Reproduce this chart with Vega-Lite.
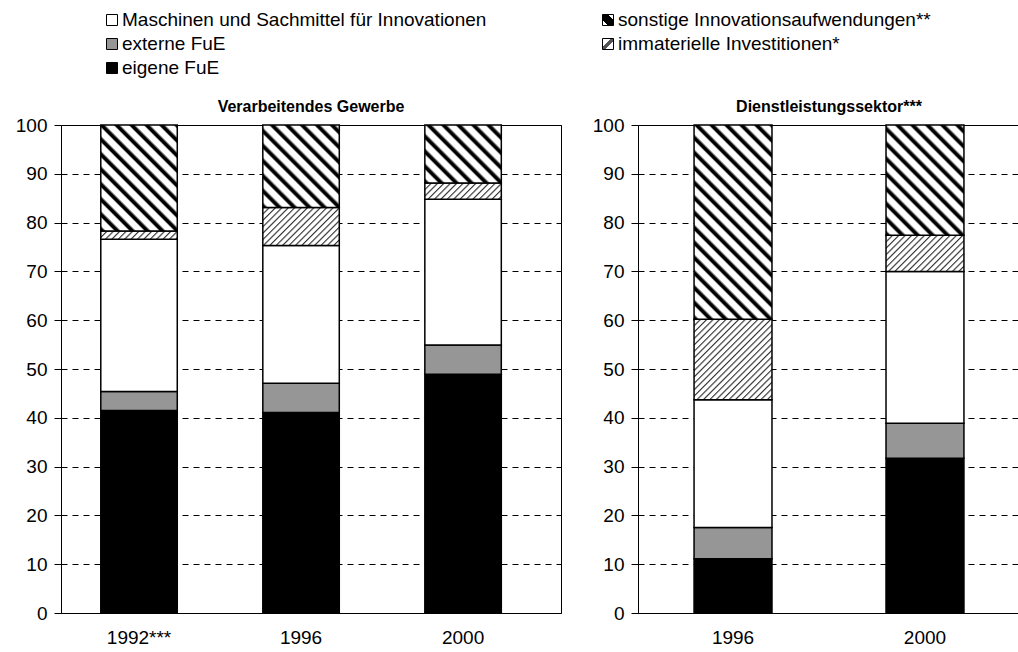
{
  "$schema": "https://vega.github.io/schema/vega-lite/v6.json",
  "background": "white",
  "padding": {"left": 14, "top": 0, "right": 0, "bottom": 0},
  "config": {
    "font": "Liberation Sans",
    "view": {"stroke": "black", "strokeWidth": 1},
    "axis": {"labelFont": "Liberation Sans", "labelFontSize": 19, "labelColor": "black", "domainColor": "black", "domainWidth": 1, "tickColor": "black", "gridColor": "black", "gridDash": [6, 5], "gridWidth": 1, "labelFlush": false, "labelOverlap": false, "labelBound": false},
    "axisX": {"ticks": false, "labelPadding": 15, "labelAngle": 0, "grid": false},
    "axisY": {"tickSize": 7, "labelPadding": 7},
    "title": {"font": "Liberation Sans", "fontSize": 16, "fontWeight": "bold", "color": "black", "offset": 0, "dy": 3, "anchor": "middle"}
  },
  "datasets": {
    "bars": [
      {"sector": "VG", "year": "1992***", "k": 1, "comp": "eigene FuE", "value": 41.5},
      {"sector": "VG", "year": "1992***", "k": 2, "comp": "externe FuE", "value": 3.9},
      {"sector": "VG", "year": "1992***", "k": 3, "comp": "Maschinen und Sachmittel für Innovationen", "value": 31.2},
      {"sector": "VG", "year": "1992***", "k": 4, "comp": "immaterielle Investitionen", "value": 1.7},
      {"sector": "VG", "year": "1992***", "k": 5, "comp": "sonstige Innovationsaufwendungen", "value": 21.7},
      {"sector": "VG", "year": "1996", "k": 1, "comp": "eigene FuE", "value": 41.1},
      {"sector": "VG", "year": "1996", "k": 2, "comp": "externe FuE", "value": 6.0},
      {"sector": "VG", "year": "1996", "k": 3, "comp": "Maschinen und Sachmittel für Innovationen", "value": 28.2},
      {"sector": "VG", "year": "1996", "k": 4, "comp": "immaterielle Investitionen", "value": 7.8},
      {"sector": "VG", "year": "1996", "k": 5, "comp": "sonstige Innovationsaufwendungen", "value": 16.9},
      {"sector": "VG", "year": "2000", "k": 1, "comp": "eigene FuE", "value": 48.9},
      {"sector": "VG", "year": "2000", "k": 2, "comp": "externe FuE", "value": 6.0},
      {"sector": "VG", "year": "2000", "k": 3, "comp": "Maschinen und Sachmittel für Innovationen", "value": 29.9},
      {"sector": "VG", "year": "2000", "k": 4, "comp": "immaterielle Investitionen", "value": 3.3},
      {"sector": "VG", "year": "2000", "k": 5, "comp": "sonstige Innovationsaufwendungen", "value": 11.9},
      {"sector": "DL", "year": "1996", "k": 1, "comp": "eigene FuE", "value": 11.1},
      {"sector": "DL", "year": "1996", "k": 2, "comp": "externe FuE", "value": 6.4},
      {"sector": "DL", "year": "1996", "k": 3, "comp": "Maschinen und Sachmittel für Innovationen", "value": 26.2},
      {"sector": "DL", "year": "1996", "k": 4, "comp": "immaterielle Investitionen", "value": 16.5},
      {"sector": "DL", "year": "1996", "k": 5, "comp": "sonstige Innovationsaufwendungen", "value": 39.8},
      {"sector": "DL", "year": "2000", "k": 1, "comp": "eigene FuE", "value": 31.7},
      {"sector": "DL", "year": "2000", "k": 2, "comp": "externe FuE", "value": 7.2},
      {"sector": "DL", "year": "2000", "k": 3, "comp": "Maschinen und Sachmittel für Innovationen", "value": 31.1},
      {"sector": "DL", "year": "2000", "k": 4, "comp": "immaterielle Investitionen", "value": 7.4},
      {"sector": "DL", "year": "2000", "k": 5, "comp": "sonstige Innovationsaufwendungen", "value": 22.6}
    ],
    "legend": [
      {"label": "Maschinen und Sachmittel für Innovationen", "col": 0, "row": 0, "k": 3},
      {"label": "externe FuE", "col": 0, "row": 1, "k": 2},
      {"label": "eigene FuE", "col": 0, "row": 2, "k": 1},
      {"label": "sonstige Innovationsaufwendungen**", "col": 1, "row": 0, "k": 5},
      {"label": "immaterielle Investitionen*", "col": 1, "row": 1, "k": 4}
    ]
  },
  "spacing": 18,
  "vconcat": [
    {
      "width": 940,
      "height": 80,
      "view": {"stroke": null},
      "data": {"name": "legend"},
      "encoding": {
        "x": {"field": "col", "type": "quantitative", "scale": {"domain": [0, 1], "range": [51, 547]}, "axis": null},
        "y": {"field": "row", "type": "quantitative", "scale": {"domain": [0, 2], "range": [20, 68]}, "axis": null}
      },
      "layer": [
        {
          "mark": {"type": "square", "size": 121, "stroke": "black", "strokeWidth": 1, "opacity": 1},
          "encoding": {
            "fill": {
              "condition": [
                {"test": "datum.k === 1", "value": "#000"},
                {"test": "datum.k === 2", "value": "#969696"},
                {"test": "datum.k === 5", "value": {"gradient": "linear", "x1": 0, "y1": 1, "x2": 1, "y2": 0, "stops": [{"offset": 0, "color": "#fff"}, {"offset": 0.25, "color": "#fff"}, {"offset": 0.25, "color": "#000"}, {"offset": 0.75, "color": "#000"}, {"offset": 0.75, "color": "#fff"}, {"offset": 1, "color": "#fff"}]}},
                {"test": "datum.k === 4", "value": {"gradient": "linear", "x1": 0, "y1": 0, "x2": 1, "y2": 1, "stops": [{"offset": 0, "color": "#fff"}, {"offset": 0.4, "color": "#fff"}, {"offset": 0.4, "color": "#555"}, {"offset": 0.6, "color": "#555"}, {"offset": 0.6, "color": "#fff"}, {"offset": 1, "color": "#fff"}]}}
              ],
              "value": "#fff"
            }
          }
        },
        {
          "mark": {"type": "text", "align": "left", "baseline": "middle", "dx": 10, "fontSize": 19, "font": "Liberation Sans", "color": "black"},
          "encoding": {"text": {"field": "label"}}
        }
      ]
    },
    {
      "spacing": 29,
      "hconcat": [
        {
          "width": 500,
          "height": 488,
          "title": "Verarbeitendes Gewerbe",
          "data": {"name": "bars"},
          "transform": [{"filter": "datum.sector === 'VG'"}],
          "mark": {"type": "bar", "stroke": "black", "strokeWidth": 1.5},
          "encoding": {
            "x": {"field": "year", "type": "nominal", "sort": null, "scale": {"paddingInner": 0.528, "paddingOuter": 0.307, "align": 0.4}, "axis": {"title": null}},
            "y": {"field": "value", "type": "quantitative", "stack": "zero", "scale": {"domain": [0, 100], "nice": false}, "axis": {"title": null, "values": [0, 10, 20, 30, 40, 50, 60, 70, 80, 90, 100], "grid": true}},
            "order": {"field": "k", "type": "quantitative"},
            "fill": {
              "condition": [
                {"test": "datum.k === 1", "value": "#000"},
                {"test": "datum.k === 2", "value": "#969696"},
                {"test": "datum.k === 4 && datum.year === '1992***'", "value": {"gradient": "linear", "x1": 0, "y1": 0, "x2": 2.0672, "y2": 0.2243, "stops": [{"offset":0,"color":"#333"},{"offset":0.012,"color":"#fff"},{"offset":0.032,"color":"#fff"},{"offset":0.04,"color":"#333"},{"offset":0.052,"color":"#fff"},{"offset":0.072,"color":"#fff"},{"offset":0.08,"color":"#333"},{"offset":0.092,"color":"#fff"},{"offset":0.112,"color":"#fff"},{"offset":0.12,"color":"#333"},{"offset":0.132,"color":"#fff"},{"offset":0.152,"color":"#fff"},{"offset":0.16,"color":"#333"},{"offset":0.172,"color":"#fff"},{"offset":0.192,"color":"#fff"},{"offset":0.2,"color":"#333"},{"offset":0.212,"color":"#fff"},{"offset":0.232,"color":"#fff"},{"offset":0.24,"color":"#333"},{"offset":0.252,"color":"#fff"},{"offset":0.272,"color":"#fff"},{"offset":0.28,"color":"#333"},{"offset":0.292,"color":"#fff"},{"offset":0.312,"color":"#fff"},{"offset":0.32,"color":"#333"},{"offset":0.332,"color":"#fff"},{"offset":0.352,"color":"#fff"},{"offset":0.36,"color":"#333"},{"offset":0.372,"color":"#fff"},{"offset":0.392,"color":"#fff"},{"offset":0.4,"color":"#333"},{"offset":0.412,"color":"#fff"},{"offset":0.432,"color":"#fff"},{"offset":0.44,"color":"#333"},{"offset":0.452,"color":"#fff"},{"offset":0.472,"color":"#fff"},{"offset":0.48,"color":"#333"},{"offset":0.492,"color":"#fff"},{"offset":0.512,"color":"#fff"},{"offset":0.52,"color":"#333"},{"offset":0.532,"color":"#fff"},{"offset":0.552,"color":"#fff"},{"offset":0.56,"color":"#333"},{"offset":0.572,"color":"#fff"},{"offset":0.592,"color":"#fff"},{"offset":0.6,"color":"#333"},{"offset":0.612,"color":"#fff"},{"offset":0.632,"color":"#fff"},{"offset":0.64,"color":"#333"},{"offset":0.652,"color":"#fff"},{"offset":0.672,"color":"#fff"},{"offset":0.68,"color":"#333"},{"offset":0.692,"color":"#fff"},{"offset":0.712,"color":"#fff"},{"offset":0.72,"color":"#333"},{"offset":0.732,"color":"#fff"},{"offset":0.752,"color":"#fff"},{"offset":0.76,"color":"#333"},{"offset":0.772,"color":"#fff"},{"offset":0.792,"color":"#fff"},{"offset":0.8,"color":"#333"},{"offset":0.812,"color":"#fff"},{"offset":0.832,"color":"#fff"},{"offset":0.84,"color":"#333"},{"offset":0.852,"color":"#fff"},{"offset":0.872,"color":"#fff"},{"offset":0.88,"color":"#333"},{"offset":0.892,"color":"#fff"},{"offset":0.912,"color":"#fff"},{"offset":0.92,"color":"#333"},{"offset":0.932,"color":"#fff"},{"offset":0.952,"color":"#fff"},{"offset":0.96,"color":"#333"},{"offset":0.972,"color":"#fff"},{"offset":0.992,"color":"#fff"},{"offset":1,"color":"#333"}]}},
                {"test": "datum.k === 4 && datum.year === '1996'", "value": {"gradient": "linear", "x1": 0, "y1": 0, "x2": 1.6758, "y2": 0.8346, "stops": [{"offset":0,"color":"#333"},{"offset":0.012,"color":"#fff"},{"offset":0.032,"color":"#fff"},{"offset":0.04,"color":"#333"},{"offset":0.052,"color":"#fff"},{"offset":0.072,"color":"#fff"},{"offset":0.08,"color":"#333"},{"offset":0.092,"color":"#fff"},{"offset":0.112,"color":"#fff"},{"offset":0.12,"color":"#333"},{"offset":0.132,"color":"#fff"},{"offset":0.152,"color":"#fff"},{"offset":0.16,"color":"#333"},{"offset":0.172,"color":"#fff"},{"offset":0.192,"color":"#fff"},{"offset":0.2,"color":"#333"},{"offset":0.212,"color":"#fff"},{"offset":0.232,"color":"#fff"},{"offset":0.24,"color":"#333"},{"offset":0.252,"color":"#fff"},{"offset":0.272,"color":"#fff"},{"offset":0.28,"color":"#333"},{"offset":0.292,"color":"#fff"},{"offset":0.312,"color":"#fff"},{"offset":0.32,"color":"#333"},{"offset":0.332,"color":"#fff"},{"offset":0.352,"color":"#fff"},{"offset":0.36,"color":"#333"},{"offset":0.372,"color":"#fff"},{"offset":0.392,"color":"#fff"},{"offset":0.4,"color":"#333"},{"offset":0.412,"color":"#fff"},{"offset":0.432,"color":"#fff"},{"offset":0.44,"color":"#333"},{"offset":0.452,"color":"#fff"},{"offset":0.472,"color":"#fff"},{"offset":0.48,"color":"#333"},{"offset":0.492,"color":"#fff"},{"offset":0.512,"color":"#fff"},{"offset":0.52,"color":"#333"},{"offset":0.532,"color":"#fff"},{"offset":0.552,"color":"#fff"},{"offset":0.56,"color":"#333"},{"offset":0.572,"color":"#fff"},{"offset":0.592,"color":"#fff"},{"offset":0.6,"color":"#333"},{"offset":0.612,"color":"#fff"},{"offset":0.632,"color":"#fff"},{"offset":0.64,"color":"#333"},{"offset":0.652,"color":"#fff"},{"offset":0.672,"color":"#fff"},{"offset":0.68,"color":"#333"},{"offset":0.692,"color":"#fff"},{"offset":0.712,"color":"#fff"},{"offset":0.72,"color":"#333"},{"offset":0.732,"color":"#fff"},{"offset":0.752,"color":"#fff"},{"offset":0.76,"color":"#333"},{"offset":0.772,"color":"#fff"},{"offset":0.792,"color":"#fff"},{"offset":0.8,"color":"#333"},{"offset":0.812,"color":"#fff"},{"offset":0.832,"color":"#fff"},{"offset":0.84,"color":"#333"},{"offset":0.852,"color":"#fff"},{"offset":0.872,"color":"#fff"},{"offset":0.88,"color":"#333"},{"offset":0.892,"color":"#fff"},{"offset":0.912,"color":"#fff"},{"offset":0.92,"color":"#333"},{"offset":0.932,"color":"#fff"},{"offset":0.952,"color":"#fff"},{"offset":0.96,"color":"#333"},{"offset":0.972,"color":"#fff"},{"offset":0.992,"color":"#fff"},{"offset":1,"color":"#333"}]}},
                {"test": "datum.k === 4 && datum.year === '2000'", "value": {"gradient": "linear", "x1": 0, "y1": 0, "x2": 2.0029, "y2": 0.4215, "stops": [{"offset":0,"color":"#333"},{"offset":0.012,"color":"#fff"},{"offset":0.032,"color":"#fff"},{"offset":0.04,"color":"#333"},{"offset":0.052,"color":"#fff"},{"offset":0.072,"color":"#fff"},{"offset":0.08,"color":"#333"},{"offset":0.092,"color":"#fff"},{"offset":0.112,"color":"#fff"},{"offset":0.12,"color":"#333"},{"offset":0.132,"color":"#fff"},{"offset":0.152,"color":"#fff"},{"offset":0.16,"color":"#333"},{"offset":0.172,"color":"#fff"},{"offset":0.192,"color":"#fff"},{"offset":0.2,"color":"#333"},{"offset":0.212,"color":"#fff"},{"offset":0.232,"color":"#fff"},{"offset":0.24,"color":"#333"},{"offset":0.252,"color":"#fff"},{"offset":0.272,"color":"#fff"},{"offset":0.28,"color":"#333"},{"offset":0.292,"color":"#fff"},{"offset":0.312,"color":"#fff"},{"offset":0.32,"color":"#333"},{"offset":0.332,"color":"#fff"},{"offset":0.352,"color":"#fff"},{"offset":0.36,"color":"#333"},{"offset":0.372,"color":"#fff"},{"offset":0.392,"color":"#fff"},{"offset":0.4,"color":"#333"},{"offset":0.412,"color":"#fff"},{"offset":0.432,"color":"#fff"},{"offset":0.44,"color":"#333"},{"offset":0.452,"color":"#fff"},{"offset":0.472,"color":"#fff"},{"offset":0.48,"color":"#333"},{"offset":0.492,"color":"#fff"},{"offset":0.512,"color":"#fff"},{"offset":0.52,"color":"#333"},{"offset":0.532,"color":"#fff"},{"offset":0.552,"color":"#fff"},{"offset":0.56,"color":"#333"},{"offset":0.572,"color":"#fff"},{"offset":0.592,"color":"#fff"},{"offset":0.6,"color":"#333"},{"offset":0.612,"color":"#fff"},{"offset":0.632,"color":"#fff"},{"offset":0.64,"color":"#333"},{"offset":0.652,"color":"#fff"},{"offset":0.672,"color":"#fff"},{"offset":0.68,"color":"#333"},{"offset":0.692,"color":"#fff"},{"offset":0.712,"color":"#fff"},{"offset":0.72,"color":"#333"},{"offset":0.732,"color":"#fff"},{"offset":0.752,"color":"#fff"},{"offset":0.76,"color":"#333"},{"offset":0.772,"color":"#fff"},{"offset":0.792,"color":"#fff"},{"offset":0.8,"color":"#333"},{"offset":0.812,"color":"#fff"},{"offset":0.832,"color":"#fff"},{"offset":0.84,"color":"#333"},{"offset":0.852,"color":"#fff"},{"offset":0.872,"color":"#fff"},{"offset":0.88,"color":"#333"},{"offset":0.892,"color":"#fff"},{"offset":0.912,"color":"#fff"},{"offset":0.92,"color":"#333"},{"offset":0.932,"color":"#fff"},{"offset":0.952,"color":"#fff"},{"offset":0.96,"color":"#333"},{"offset":0.972,"color":"#fff"},{"offset":0.992,"color":"#fff"},{"offset":1,"color":"#333"}]}},
                {"test": "datum.k === 5 && datum.year === '1992***'", "value": {"gradient": "linear", "x1": 0, "y1": 1, "x2": 1.3447, "y2": -0.8615, "stops": [{"offset":0,"color":"#000"},{"offset":0.01,"color":"#000"},{"offset":0.02,"color":"#fff"},{"offset":0.043,"color":"#fff"},{"offset":0.05,"color":"#000"},{"offset":0.06,"color":"#000"},{"offset":0.07,"color":"#fff"},{"offset":0.093,"color":"#fff"},{"offset":0.1,"color":"#000"},{"offset":0.11,"color":"#000"},{"offset":0.12,"color":"#fff"},{"offset":0.143,"color":"#fff"},{"offset":0.15,"color":"#000"},{"offset":0.16,"color":"#000"},{"offset":0.17,"color":"#fff"},{"offset":0.193,"color":"#fff"},{"offset":0.2,"color":"#000"},{"offset":0.21,"color":"#000"},{"offset":0.22,"color":"#fff"},{"offset":0.243,"color":"#fff"},{"offset":0.25,"color":"#000"},{"offset":0.26,"color":"#000"},{"offset":0.27,"color":"#fff"},{"offset":0.293,"color":"#fff"},{"offset":0.3,"color":"#000"},{"offset":0.31,"color":"#000"},{"offset":0.32,"color":"#fff"},{"offset":0.343,"color":"#fff"},{"offset":0.35,"color":"#000"},{"offset":0.36,"color":"#000"},{"offset":0.37,"color":"#fff"},{"offset":0.393,"color":"#fff"},{"offset":0.4,"color":"#000"},{"offset":0.41,"color":"#000"},{"offset":0.42,"color":"#fff"},{"offset":0.443,"color":"#fff"},{"offset":0.45,"color":"#000"},{"offset":0.46,"color":"#000"},{"offset":0.47,"color":"#fff"},{"offset":0.493,"color":"#fff"},{"offset":0.5,"color":"#000"},{"offset":0.51,"color":"#000"},{"offset":0.52,"color":"#fff"},{"offset":0.543,"color":"#fff"},{"offset":0.55,"color":"#000"},{"offset":0.56,"color":"#000"},{"offset":0.57,"color":"#fff"},{"offset":0.593,"color":"#fff"},{"offset":0.6,"color":"#000"},{"offset":0.61,"color":"#000"},{"offset":0.62,"color":"#fff"},{"offset":0.643,"color":"#fff"},{"offset":0.65,"color":"#000"},{"offset":0.66,"color":"#000"},{"offset":0.67,"color":"#fff"},{"offset":0.693,"color":"#fff"},{"offset":0.7,"color":"#000"},{"offset":0.71,"color":"#000"},{"offset":0.72,"color":"#fff"},{"offset":0.743,"color":"#fff"},{"offset":0.75,"color":"#000"},{"offset":0.76,"color":"#000"},{"offset":0.77,"color":"#fff"},{"offset":0.793,"color":"#fff"},{"offset":0.8,"color":"#000"},{"offset":0.81,"color":"#000"},{"offset":0.82,"color":"#fff"},{"offset":0.843,"color":"#fff"},{"offset":0.85,"color":"#000"},{"offset":0.86,"color":"#000"},{"offset":0.87,"color":"#fff"},{"offset":0.893,"color":"#fff"},{"offset":0.9,"color":"#000"},{"offset":0.91,"color":"#000"},{"offset":0.92,"color":"#fff"},{"offset":0.943,"color":"#fff"},{"offset":0.95,"color":"#000"},{"offset":0.96,"color":"#000"},{"offset":0.97,"color":"#fff"},{"offset":0.993,"color":"#fff"},{"offset":1,"color":"#000"}]}},
                {"test": "datum.k === 5 && datum.year === '1996'", "value": {"gradient": "linear", "x1": 0, "y1": 1, "x2": 1.8131, "y2": -0.9553, "stops": [{"offset":0,"color":"#000"},{"offset":0.01,"color":"#000"},{"offset":0.02,"color":"#fff"},{"offset":0.043,"color":"#fff"},{"offset":0.05,"color":"#000"},{"offset":0.06,"color":"#000"},{"offset":0.07,"color":"#fff"},{"offset":0.093,"color":"#fff"},{"offset":0.1,"color":"#000"},{"offset":0.11,"color":"#000"},{"offset":0.12,"color":"#fff"},{"offset":0.143,"color":"#fff"},{"offset":0.15,"color":"#000"},{"offset":0.16,"color":"#000"},{"offset":0.17,"color":"#fff"},{"offset":0.193,"color":"#fff"},{"offset":0.2,"color":"#000"},{"offset":0.21,"color":"#000"},{"offset":0.22,"color":"#fff"},{"offset":0.243,"color":"#fff"},{"offset":0.25,"color":"#000"},{"offset":0.26,"color":"#000"},{"offset":0.27,"color":"#fff"},{"offset":0.293,"color":"#fff"},{"offset":0.3,"color":"#000"},{"offset":0.31,"color":"#000"},{"offset":0.32,"color":"#fff"},{"offset":0.343,"color":"#fff"},{"offset":0.35,"color":"#000"},{"offset":0.36,"color":"#000"},{"offset":0.37,"color":"#fff"},{"offset":0.393,"color":"#fff"},{"offset":0.4,"color":"#000"},{"offset":0.41,"color":"#000"},{"offset":0.42,"color":"#fff"},{"offset":0.443,"color":"#fff"},{"offset":0.45,"color":"#000"},{"offset":0.46,"color":"#000"},{"offset":0.47,"color":"#fff"},{"offset":0.493,"color":"#fff"},{"offset":0.5,"color":"#000"},{"offset":0.51,"color":"#000"},{"offset":0.52,"color":"#fff"},{"offset":0.543,"color":"#fff"},{"offset":0.55,"color":"#000"},{"offset":0.56,"color":"#000"},{"offset":0.57,"color":"#fff"},{"offset":0.593,"color":"#fff"},{"offset":0.6,"color":"#000"},{"offset":0.61,"color":"#000"},{"offset":0.62,"color":"#fff"},{"offset":0.643,"color":"#fff"},{"offset":0.65,"color":"#000"},{"offset":0.66,"color":"#000"},{"offset":0.67,"color":"#fff"},{"offset":0.693,"color":"#fff"},{"offset":0.7,"color":"#000"},{"offset":0.71,"color":"#000"},{"offset":0.72,"color":"#fff"},{"offset":0.743,"color":"#fff"},{"offset":0.75,"color":"#000"},{"offset":0.76,"color":"#000"},{"offset":0.77,"color":"#fff"},{"offset":0.793,"color":"#fff"},{"offset":0.8,"color":"#000"},{"offset":0.81,"color":"#000"},{"offset":0.82,"color":"#fff"},{"offset":0.843,"color":"#fff"},{"offset":0.85,"color":"#000"},{"offset":0.86,"color":"#000"},{"offset":0.87,"color":"#fff"},{"offset":0.893,"color":"#fff"},{"offset":0.9,"color":"#000"},{"offset":0.91,"color":"#000"},{"offset":0.92,"color":"#fff"},{"offset":0.943,"color":"#fff"},{"offset":0.95,"color":"#000"},{"offset":0.96,"color":"#000"},{"offset":0.97,"color":"#fff"},{"offset":0.993,"color":"#fff"},{"offset":1,"color":"#000"}]}},
                {"test": "datum.k === 5 && datum.year === '2000'", "value": {"gradient": "linear", "x1": 0, "y1": 1, "x2": 2.487, "y2": -0.8888, "stops": [{"offset":0,"color":"#000"},{"offset":0.01,"color":"#000"},{"offset":0.02,"color":"#fff"},{"offset":0.043,"color":"#fff"},{"offset":0.05,"color":"#000"},{"offset":0.06,"color":"#000"},{"offset":0.07,"color":"#fff"},{"offset":0.093,"color":"#fff"},{"offset":0.1,"color":"#000"},{"offset":0.11,"color":"#000"},{"offset":0.12,"color":"#fff"},{"offset":0.143,"color":"#fff"},{"offset":0.15,"color":"#000"},{"offset":0.16,"color":"#000"},{"offset":0.17,"color":"#fff"},{"offset":0.193,"color":"#fff"},{"offset":0.2,"color":"#000"},{"offset":0.21,"color":"#000"},{"offset":0.22,"color":"#fff"},{"offset":0.243,"color":"#fff"},{"offset":0.25,"color":"#000"},{"offset":0.26,"color":"#000"},{"offset":0.27,"color":"#fff"},{"offset":0.293,"color":"#fff"},{"offset":0.3,"color":"#000"},{"offset":0.31,"color":"#000"},{"offset":0.32,"color":"#fff"},{"offset":0.343,"color":"#fff"},{"offset":0.35,"color":"#000"},{"offset":0.36,"color":"#000"},{"offset":0.37,"color":"#fff"},{"offset":0.393,"color":"#fff"},{"offset":0.4,"color":"#000"},{"offset":0.41,"color":"#000"},{"offset":0.42,"color":"#fff"},{"offset":0.443,"color":"#fff"},{"offset":0.45,"color":"#000"},{"offset":0.46,"color":"#000"},{"offset":0.47,"color":"#fff"},{"offset":0.493,"color":"#fff"},{"offset":0.5,"color":"#000"},{"offset":0.51,"color":"#000"},{"offset":0.52,"color":"#fff"},{"offset":0.543,"color":"#fff"},{"offset":0.55,"color":"#000"},{"offset":0.56,"color":"#000"},{"offset":0.57,"color":"#fff"},{"offset":0.593,"color":"#fff"},{"offset":0.6,"color":"#000"},{"offset":0.61,"color":"#000"},{"offset":0.62,"color":"#fff"},{"offset":0.643,"color":"#fff"},{"offset":0.65,"color":"#000"},{"offset":0.66,"color":"#000"},{"offset":0.67,"color":"#fff"},{"offset":0.693,"color":"#fff"},{"offset":0.7,"color":"#000"},{"offset":0.71,"color":"#000"},{"offset":0.72,"color":"#fff"},{"offset":0.743,"color":"#fff"},{"offset":0.75,"color":"#000"},{"offset":0.76,"color":"#000"},{"offset":0.77,"color":"#fff"},{"offset":0.793,"color":"#fff"},{"offset":0.8,"color":"#000"},{"offset":0.81,"color":"#000"},{"offset":0.82,"color":"#fff"},{"offset":0.843,"color":"#fff"},{"offset":0.85,"color":"#000"},{"offset":0.86,"color":"#000"},{"offset":0.87,"color":"#fff"},{"offset":0.893,"color":"#fff"},{"offset":0.9,"color":"#000"},{"offset":0.91,"color":"#000"},{"offset":0.92,"color":"#fff"},{"offset":0.943,"color":"#fff"},{"offset":0.95,"color":"#000"},{"offset":0.96,"color":"#000"},{"offset":0.97,"color":"#fff"},{"offset":0.993,"color":"#fff"},{"offset":1,"color":"#000"}]}}
              ],
              "value": "#fff"
            }
          }
        },
        {
          "width": 382,
          "height": 488,
          "title": "Dienstleistungssektor***",
          "data": {"name": "bars"},
          "transform": [{"filter": "datum.sector === 'DL'"}],
          "mark": {"type": "bar", "stroke": "black", "strokeWidth": 1.5},
          "encoding": {
            "x": {"field": "year", "type": "nominal", "sort": null, "scale": {"paddingInner": 0.594, "paddingOuter": 0.292, "align": 0.5}, "axis": {"title": null}},
            "y": {"field": "value", "type": "quantitative", "stack": "zero", "scale": {"domain": [0, 100], "nice": false}, "axis": {"title": null, "values": [0, 10, 20, 30, 40, 50, 60, 70, 80, 90, 100], "grid": true}},
            "order": {"field": "k", "type": "quantitative"},
            "fill": {
              "condition": [
                {"test": "datum.k === 1", "value": "#000"},
                {"test": "datum.k === 2", "value": "#969696"},
                {"test": "datum.k === 4 && datum.year === '1996'", "value": {"gradient": "linear", "x1": 0, "y1": 0, "x2": 0.9933, "y2": 1.0252, "stops": [{"offset":0,"color":"#333"},{"offset":0.012,"color":"#fff"},{"offset":0.032,"color":"#fff"},{"offset":0.04,"color":"#333"},{"offset":0.052,"color":"#fff"},{"offset":0.072,"color":"#fff"},{"offset":0.08,"color":"#333"},{"offset":0.092,"color":"#fff"},{"offset":0.112,"color":"#fff"},{"offset":0.12,"color":"#333"},{"offset":0.132,"color":"#fff"},{"offset":0.152,"color":"#fff"},{"offset":0.16,"color":"#333"},{"offset":0.172,"color":"#fff"},{"offset":0.192,"color":"#fff"},{"offset":0.2,"color":"#333"},{"offset":0.212,"color":"#fff"},{"offset":0.232,"color":"#fff"},{"offset":0.24,"color":"#333"},{"offset":0.252,"color":"#fff"},{"offset":0.272,"color":"#fff"},{"offset":0.28,"color":"#333"},{"offset":0.292,"color":"#fff"},{"offset":0.312,"color":"#fff"},{"offset":0.32,"color":"#333"},{"offset":0.332,"color":"#fff"},{"offset":0.352,"color":"#fff"},{"offset":0.36,"color":"#333"},{"offset":0.372,"color":"#fff"},{"offset":0.392,"color":"#fff"},{"offset":0.4,"color":"#333"},{"offset":0.412,"color":"#fff"},{"offset":0.432,"color":"#fff"},{"offset":0.44,"color":"#333"},{"offset":0.452,"color":"#fff"},{"offset":0.472,"color":"#fff"},{"offset":0.48,"color":"#333"},{"offset":0.492,"color":"#fff"},{"offset":0.512,"color":"#fff"},{"offset":0.52,"color":"#333"},{"offset":0.532,"color":"#fff"},{"offset":0.552,"color":"#fff"},{"offset":0.56,"color":"#333"},{"offset":0.572,"color":"#fff"},{"offset":0.592,"color":"#fff"},{"offset":0.6,"color":"#333"},{"offset":0.612,"color":"#fff"},{"offset":0.632,"color":"#fff"},{"offset":0.64,"color":"#333"},{"offset":0.652,"color":"#fff"},{"offset":0.672,"color":"#fff"},{"offset":0.68,"color":"#333"},{"offset":0.692,"color":"#fff"},{"offset":0.712,"color":"#fff"},{"offset":0.72,"color":"#333"},{"offset":0.732,"color":"#fff"},{"offset":0.752,"color":"#fff"},{"offset":0.76,"color":"#333"},{"offset":0.772,"color":"#fff"},{"offset":0.792,"color":"#fff"},{"offset":0.8,"color":"#333"},{"offset":0.812,"color":"#fff"},{"offset":0.832,"color":"#fff"},{"offset":0.84,"color":"#333"},{"offset":0.852,"color":"#fff"},{"offset":0.872,"color":"#fff"},{"offset":0.88,"color":"#333"},{"offset":0.892,"color":"#fff"},{"offset":0.912,"color":"#fff"},{"offset":0.92,"color":"#333"},{"offset":0.932,"color":"#fff"},{"offset":0.952,"color":"#fff"},{"offset":0.96,"color":"#333"},{"offset":0.972,"color":"#fff"},{"offset":0.992,"color":"#fff"},{"offset":1,"color":"#333"}]}},
                {"test": "datum.k === 4 && datum.year === '2000'", "value": {"gradient": "linear", "x1": 0, "y1": 0, "x2": 1.6894, "y2": 0.7819, "stops": [{"offset":0,"color":"#333"},{"offset":0.012,"color":"#fff"},{"offset":0.032,"color":"#fff"},{"offset":0.04,"color":"#333"},{"offset":0.052,"color":"#fff"},{"offset":0.072,"color":"#fff"},{"offset":0.08,"color":"#333"},{"offset":0.092,"color":"#fff"},{"offset":0.112,"color":"#fff"},{"offset":0.12,"color":"#333"},{"offset":0.132,"color":"#fff"},{"offset":0.152,"color":"#fff"},{"offset":0.16,"color":"#333"},{"offset":0.172,"color":"#fff"},{"offset":0.192,"color":"#fff"},{"offset":0.2,"color":"#333"},{"offset":0.212,"color":"#fff"},{"offset":0.232,"color":"#fff"},{"offset":0.24,"color":"#333"},{"offset":0.252,"color":"#fff"},{"offset":0.272,"color":"#fff"},{"offset":0.28,"color":"#333"},{"offset":0.292,"color":"#fff"},{"offset":0.312,"color":"#fff"},{"offset":0.32,"color":"#333"},{"offset":0.332,"color":"#fff"},{"offset":0.352,"color":"#fff"},{"offset":0.36,"color":"#333"},{"offset":0.372,"color":"#fff"},{"offset":0.392,"color":"#fff"},{"offset":0.4,"color":"#333"},{"offset":0.412,"color":"#fff"},{"offset":0.432,"color":"#fff"},{"offset":0.44,"color":"#333"},{"offset":0.452,"color":"#fff"},{"offset":0.472,"color":"#fff"},{"offset":0.48,"color":"#333"},{"offset":0.492,"color":"#fff"},{"offset":0.512,"color":"#fff"},{"offset":0.52,"color":"#333"},{"offset":0.532,"color":"#fff"},{"offset":0.552,"color":"#fff"},{"offset":0.56,"color":"#333"},{"offset":0.572,"color":"#fff"},{"offset":0.592,"color":"#fff"},{"offset":0.6,"color":"#333"},{"offset":0.612,"color":"#fff"},{"offset":0.632,"color":"#fff"},{"offset":0.64,"color":"#333"},{"offset":0.652,"color":"#fff"},{"offset":0.672,"color":"#fff"},{"offset":0.68,"color":"#333"},{"offset":0.692,"color":"#fff"},{"offset":0.712,"color":"#fff"},{"offset":0.72,"color":"#333"},{"offset":0.732,"color":"#fff"},{"offset":0.752,"color":"#fff"},{"offset":0.76,"color":"#333"},{"offset":0.772,"color":"#fff"},{"offset":0.792,"color":"#fff"},{"offset":0.8,"color":"#333"},{"offset":0.812,"color":"#fff"},{"offset":0.832,"color":"#fff"},{"offset":0.84,"color":"#333"},{"offset":0.852,"color":"#fff"},{"offset":0.872,"color":"#fff"},{"offset":0.88,"color":"#333"},{"offset":0.892,"color":"#fff"},{"offset":0.912,"color":"#fff"},{"offset":0.92,"color":"#333"},{"offset":0.932,"color":"#fff"},{"offset":0.952,"color":"#fff"},{"offset":0.96,"color":"#333"},{"offset":0.972,"color":"#fff"},{"offset":0.992,"color":"#fff"},{"offset":1,"color":"#333"}]}},
                {"test": "datum.k === 5 && datum.year === '1996'", "value": {"gradient": "linear", "x1": 0, "y1": 1, "x2": 0.5343, "y2": -0.3302, "stops": [{"offset":0,"color":"#000"},{"offset":0.01,"color":"#000"},{"offset":0.02,"color":"#fff"},{"offset":0.043,"color":"#fff"},{"offset":0.05,"color":"#000"},{"offset":0.06,"color":"#000"},{"offset":0.07,"color":"#fff"},{"offset":0.093,"color":"#fff"},{"offset":0.1,"color":"#000"},{"offset":0.11,"color":"#000"},{"offset":0.12,"color":"#fff"},{"offset":0.143,"color":"#fff"},{"offset":0.15,"color":"#000"},{"offset":0.16,"color":"#000"},{"offset":0.17,"color":"#fff"},{"offset":0.193,"color":"#fff"},{"offset":0.2,"color":"#000"},{"offset":0.21,"color":"#000"},{"offset":0.22,"color":"#fff"},{"offset":0.243,"color":"#fff"},{"offset":0.25,"color":"#000"},{"offset":0.26,"color":"#000"},{"offset":0.27,"color":"#fff"},{"offset":0.293,"color":"#fff"},{"offset":0.3,"color":"#000"},{"offset":0.31,"color":"#000"},{"offset":0.32,"color":"#fff"},{"offset":0.343,"color":"#fff"},{"offset":0.35,"color":"#000"},{"offset":0.36,"color":"#000"},{"offset":0.37,"color":"#fff"},{"offset":0.393,"color":"#fff"},{"offset":0.4,"color":"#000"},{"offset":0.41,"color":"#000"},{"offset":0.42,"color":"#fff"},{"offset":0.443,"color":"#fff"},{"offset":0.45,"color":"#000"},{"offset":0.46,"color":"#000"},{"offset":0.47,"color":"#fff"},{"offset":0.493,"color":"#fff"},{"offset":0.5,"color":"#000"},{"offset":0.51,"color":"#000"},{"offset":0.52,"color":"#fff"},{"offset":0.543,"color":"#fff"},{"offset":0.55,"color":"#000"},{"offset":0.56,"color":"#000"},{"offset":0.57,"color":"#fff"},{"offset":0.593,"color":"#fff"},{"offset":0.6,"color":"#000"},{"offset":0.61,"color":"#000"},{"offset":0.62,"color":"#fff"},{"offset":0.643,"color":"#fff"},{"offset":0.65,"color":"#000"},{"offset":0.66,"color":"#000"},{"offset":0.67,"color":"#fff"},{"offset":0.693,"color":"#fff"},{"offset":0.7,"color":"#000"},{"offset":0.71,"color":"#000"},{"offset":0.72,"color":"#fff"},{"offset":0.743,"color":"#fff"},{"offset":0.75,"color":"#000"},{"offset":0.76,"color":"#000"},{"offset":0.77,"color":"#fff"},{"offset":0.793,"color":"#fff"},{"offset":0.8,"color":"#000"},{"offset":0.81,"color":"#000"},{"offset":0.82,"color":"#fff"},{"offset":0.843,"color":"#fff"},{"offset":0.85,"color":"#000"},{"offset":0.86,"color":"#000"},{"offset":0.87,"color":"#fff"},{"offset":0.893,"color":"#fff"},{"offset":0.9,"color":"#000"},{"offset":0.91,"color":"#000"},{"offset":0.92,"color":"#fff"},{"offset":0.943,"color":"#fff"},{"offset":0.95,"color":"#000"},{"offset":0.96,"color":"#000"},{"offset":0.97,"color":"#fff"},{"offset":0.993,"color":"#fff"},{"offset":1,"color":"#000"}]}},
                {"test": "datum.k === 5 && datum.year === '2000'", "value": {"gradient": "linear", "x1": 0, "y1": 1, "x2": 1.2822, "y2": -0.8132, "stops": [{"offset":0,"color":"#000"},{"offset":0.01,"color":"#000"},{"offset":0.02,"color":"#fff"},{"offset":0.043,"color":"#fff"},{"offset":0.05,"color":"#000"},{"offset":0.06,"color":"#000"},{"offset":0.07,"color":"#fff"},{"offset":0.093,"color":"#fff"},{"offset":0.1,"color":"#000"},{"offset":0.11,"color":"#000"},{"offset":0.12,"color":"#fff"},{"offset":0.143,"color":"#fff"},{"offset":0.15,"color":"#000"},{"offset":0.16,"color":"#000"},{"offset":0.17,"color":"#fff"},{"offset":0.193,"color":"#fff"},{"offset":0.2,"color":"#000"},{"offset":0.21,"color":"#000"},{"offset":0.22,"color":"#fff"},{"offset":0.243,"color":"#fff"},{"offset":0.25,"color":"#000"},{"offset":0.26,"color":"#000"},{"offset":0.27,"color":"#fff"},{"offset":0.293,"color":"#fff"},{"offset":0.3,"color":"#000"},{"offset":0.31,"color":"#000"},{"offset":0.32,"color":"#fff"},{"offset":0.343,"color":"#fff"},{"offset":0.35,"color":"#000"},{"offset":0.36,"color":"#000"},{"offset":0.37,"color":"#fff"},{"offset":0.393,"color":"#fff"},{"offset":0.4,"color":"#000"},{"offset":0.41,"color":"#000"},{"offset":0.42,"color":"#fff"},{"offset":0.443,"color":"#fff"},{"offset":0.45,"color":"#000"},{"offset":0.46,"color":"#000"},{"offset":0.47,"color":"#fff"},{"offset":0.493,"color":"#fff"},{"offset":0.5,"color":"#000"},{"offset":0.51,"color":"#000"},{"offset":0.52,"color":"#fff"},{"offset":0.543,"color":"#fff"},{"offset":0.55,"color":"#000"},{"offset":0.56,"color":"#000"},{"offset":0.57,"color":"#fff"},{"offset":0.593,"color":"#fff"},{"offset":0.6,"color":"#000"},{"offset":0.61,"color":"#000"},{"offset":0.62,"color":"#fff"},{"offset":0.643,"color":"#fff"},{"offset":0.65,"color":"#000"},{"offset":0.66,"color":"#000"},{"offset":0.67,"color":"#fff"},{"offset":0.693,"color":"#fff"},{"offset":0.7,"color":"#000"},{"offset":0.71,"color":"#000"},{"offset":0.72,"color":"#fff"},{"offset":0.743,"color":"#fff"},{"offset":0.75,"color":"#000"},{"offset":0.76,"color":"#000"},{"offset":0.77,"color":"#fff"},{"offset":0.793,"color":"#fff"},{"offset":0.8,"color":"#000"},{"offset":0.81,"color":"#000"},{"offset":0.82,"color":"#fff"},{"offset":0.843,"color":"#fff"},{"offset":0.85,"color":"#000"},{"offset":0.86,"color":"#000"},{"offset":0.87,"color":"#fff"},{"offset":0.893,"color":"#fff"},{"offset":0.9,"color":"#000"},{"offset":0.91,"color":"#000"},{"offset":0.92,"color":"#fff"},{"offset":0.943,"color":"#fff"},{"offset":0.95,"color":"#000"},{"offset":0.96,"color":"#000"},{"offset":0.97,"color":"#fff"},{"offset":0.993,"color":"#fff"},{"offset":1,"color":"#000"}]}}
              ],
              "value": "#fff"
            }
          }
        }
      ]
    }
  ]
}
